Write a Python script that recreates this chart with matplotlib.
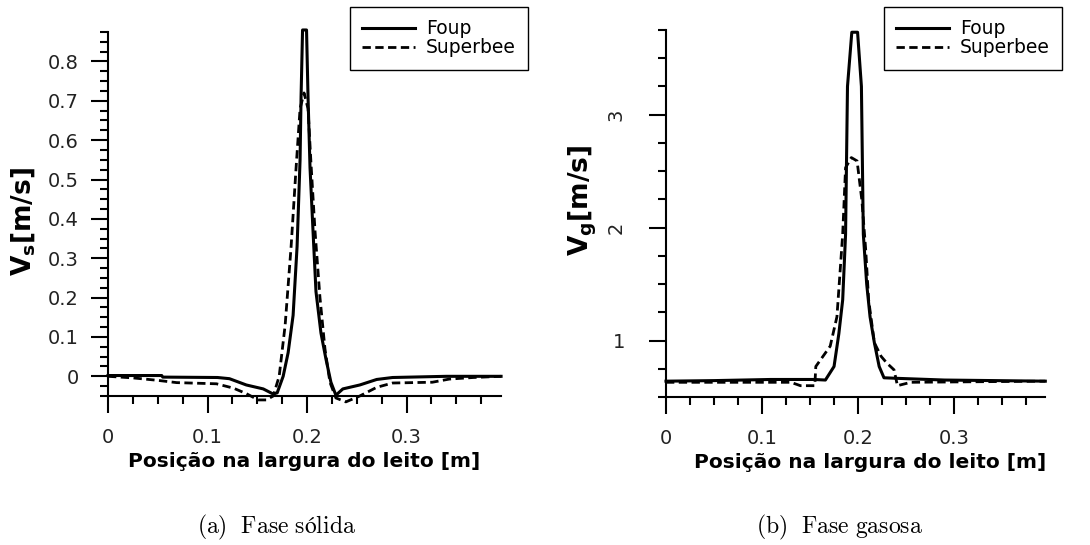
"""
Perfil de velocidade na largura do leito: fase sólida e fase gasosa,
comparando os esquemas Foup e Superbee.
"""

import matplotlib
matplotlib.use("Agg")
import matplotlib.pyplot as plt
from matplotlib.ticker import MultipleLocator

plt.rcParams['mathtext.default'] = 'bf'

# (a) Fase sólida
solid_x_foup = [0.0, 0.054, 0.055, 0.11, 0.122, 0.139, 0.156, 0.166, 0.170, 0.176,
                0.181, 0.186, 0.190, 0.193, 0.194, 0.1955, 0.1995, 0.201, 0.203,
                0.206, 0.209, 0.214, 0.219, 0.224, 0.229, 0.236, 0.253, 0.27,
                0.286, 0.34, 0.395]
solid_y_foup = [0.002, 0.002, -0.002, -0.003, -0.006, -0.022, -0.032, -0.045, -0.042,
                0.0, 0.06, 0.155, 0.33, 0.55, 0.71, 0.88, 0.88, 0.71, 0.53, 0.37,
                0.215, 0.11, 0.044, -0.015, -0.048, -0.032, -0.022, -0.008, -0.003,
                0.0, 0.0]
solid_x_superbee = [0.0, 0.025, 0.049, 0.069, 0.109, 0.126, 0.139, 0.151, 0.159,
                    0.166, 0.172, 0.178, 0.184, 0.189, 0.193, 0.197, 0.201, 0.204,
                    0.208, 0.213, 0.218, 0.223, 0.229, 0.239, 0.253, 0.270, 0.286,
                    0.326, 0.343, 0.367, 0.395]
solid_y_superbee = [0.0, -0.004, -0.010, -0.016, -0.019, -0.030, -0.044, -0.060,
                    -0.060, -0.050, 0.0, 0.13, 0.33, 0.53, 0.68, 0.72, 0.68, 0.54,
                    0.37, 0.20, 0.07, -0.015, -0.055, -0.065, -0.050, -0.028, -0.017,
                    -0.015, -0.007, -0.003, 0.0]

# (b) Fase gasosa
gas_x_foup = [0.0, 0.05, 0.109, 0.154, 0.166, 0.175, 0.180, 0.184, 0.187, 0.189,
              0.1935, 0.1995, 0.2035, 0.2055, 0.209, 0.2125, 0.217, 0.222, 0.227,
              0.241, 0.29, 0.395]
gas_y_foup = [0.64, 0.645, 0.655, 0.655, 0.65, 0.77, 1.06, 1.36, 1.94, 3.25, 3.73,
              3.73, 3.25, 1.94, 1.5, 1.21, 0.98, 0.77, 0.67, 0.665, 0.65, 0.64]
gas_x_superbee = [0.0, 0.13, 0.14, 0.155, 0.156, 0.161, 0.171, 0.178, 0.184, 0.187,
                  0.193, 0.199, 0.204, 0.208, 0.211, 0.217, 0.224, 0.230, 0.2375,
                  0.241, 0.255, 0.395]
gas_y_superbee = [0.63, 0.63, 0.60, 0.60, 0.77, 0.83, 0.95, 1.21, 1.94, 2.53, 2.62,
                  2.59, 2.24, 1.8, 1.36, 0.98, 0.86, 0.80, 0.74, 0.60, 0.63, 0.64]

series_names = ["Foup", "Superbee"]
x_ticks = [0, 0.1, 0.2, 0.3]
x_tick_labels = ["0", "0.1", "0.2", "0.3"]
solid_y_ticks = [0, 0.1, 0.2, 0.3, 0.4, 0.5, 0.6, 0.7, 0.8]
solid_y_tick_labels = ["0", "0.1", "0.2", "0.3", "0.4", "0.5", "0.6", "0.7", "0.8"]
gas_y_ticks = [1, 2, 3]
gas_y_tick_labels = ["1", "2", "3"]
captions = ["(a)\\ \\ Fase\\ sólida", "(b)\\ \\ Fase\\ gasosa"]


def style_axes(ax, y_minor):
    """Tecplot-like axes: only left/bottom lines, ticks pointing out"""
    for side in ["top", "right"]:
        ax.spines[side].set_visible(False)
    for side in ["left", "bottom"]:
        ax.spines[side].set_linewidth(1.5)
    ax.xaxis.set_minor_locator(MultipleLocator(0.025))
    ax.yaxis.set_minor_locator(MultipleLocator(y_minor))
    ax.tick_params(which="major", direction="out", length=12, width=1.5,
                   labelsize=14, labelcolor="#222222")
    ax.tick_params(which="minor", direction="out", length=6, width=1.5)
    ax.tick_params(axis="x", which="major", pad=11)
    ax.set_xlim(0, 0.395)
    ax.set_xticks(x_ticks)
    ax.set_xticklabels(x_tick_labels)
    ax.set_xlabel("Posição na largura do leito [m]", fontsize=14.5,
                  fontweight="bold")


def draw_curves(ax, xs_foup, ys_foup, xs_sb, ys_sb):
    ax.plot(xs_foup, ys_foup, color="black", lw=2.2, ls="-",
            label=series_names[0], clip_on=False)
    ax.plot(xs_sb, ys_sb, color="black", lw=2.0, ls=(0, (3, 1.6)),
            label=series_names[1], clip_on=False)


def add_legend(ax, anchor):
    ax.legend(loc="upper right", bbox_to_anchor=anchor, fontsize=13.5,
              frameon=True, fancybox=False, edgecolor="black", framealpha=1,
              handlelength=2.8, handletextpad=0.6, borderpad=0.66,
              labelspacing=0.0, borderaxespad=0)


fig = plt.figure(figsize=(10.9, 5.45), dpi=100)

# left panel: solid phase
ax1 = fig.add_axes([0.0991, 0.2734, 0.3606, 0.668])
draw_curves(ax1, solid_x_foup, solid_y_foup, solid_x_superbee, solid_y_superbee)
style_axes(ax1, 0.025)
ax1.set_ylim(-0.05, 0.875)
ax1.set_yticks(solid_y_ticks)
ax1.set_yticklabels(solid_y_tick_labels)
ax1.tick_params(axis="y", which="major", pad=9)
ax1.set_ylabel("V$_s$[m/s]", fontsize=19, fontweight="bold")
ax1.yaxis.set_label_coords(-0.18, 0.478)
ax1.xaxis.set_label_coords(0.5, -0.154)
add_legend(ax1, (1.069, 1.069))

# right panel: gas phase
ax2 = fig.add_axes([0.611, 0.2716, 0.348, 0.6734])
draw_curves(ax2, gas_x_foup, gas_y_foup, gas_x_superbee, gas_y_superbee)
style_axes(ax2, 0.25)
ax2.set_ylim(0.5, 3.75)
ax2.set_yticks(gas_y_ticks)
ax2.set_yticklabels(gas_y_tick_labels)
ax2.tick_params(axis="y", which="major", pad=17)
# Tecplot drew the "2" and "3" labels sideways
for lbl in ax2.get_yticklabels():
    if lbl.get_text() != "1":
        lbl.set_rotation(90)
        lbl.set_va("center")
ax2.set_ylabel("V$_g$[m/s]", fontsize=19, fontweight="bold")
ax2.yaxis.set_label_coords(-0.176, 0.537)
ax2.xaxis.set_label_coords(0.537, -0.152)
add_legend(ax2, (1.045, 1.063))

# subfigure captions
fig.text(0.254, 0.033, "$\\mathrm{" + captions[0] + "}$", ha="center",
         va="center", fontsize=17, math_fontfamily="cm")
fig.text(0.77, 0.033, "$\\mathrm{" + captions[1] + "}$", ha="center",
         va="center", fontsize=17, math_fontfamily="cm")

fig.savefig("out.png", dpi=100)
